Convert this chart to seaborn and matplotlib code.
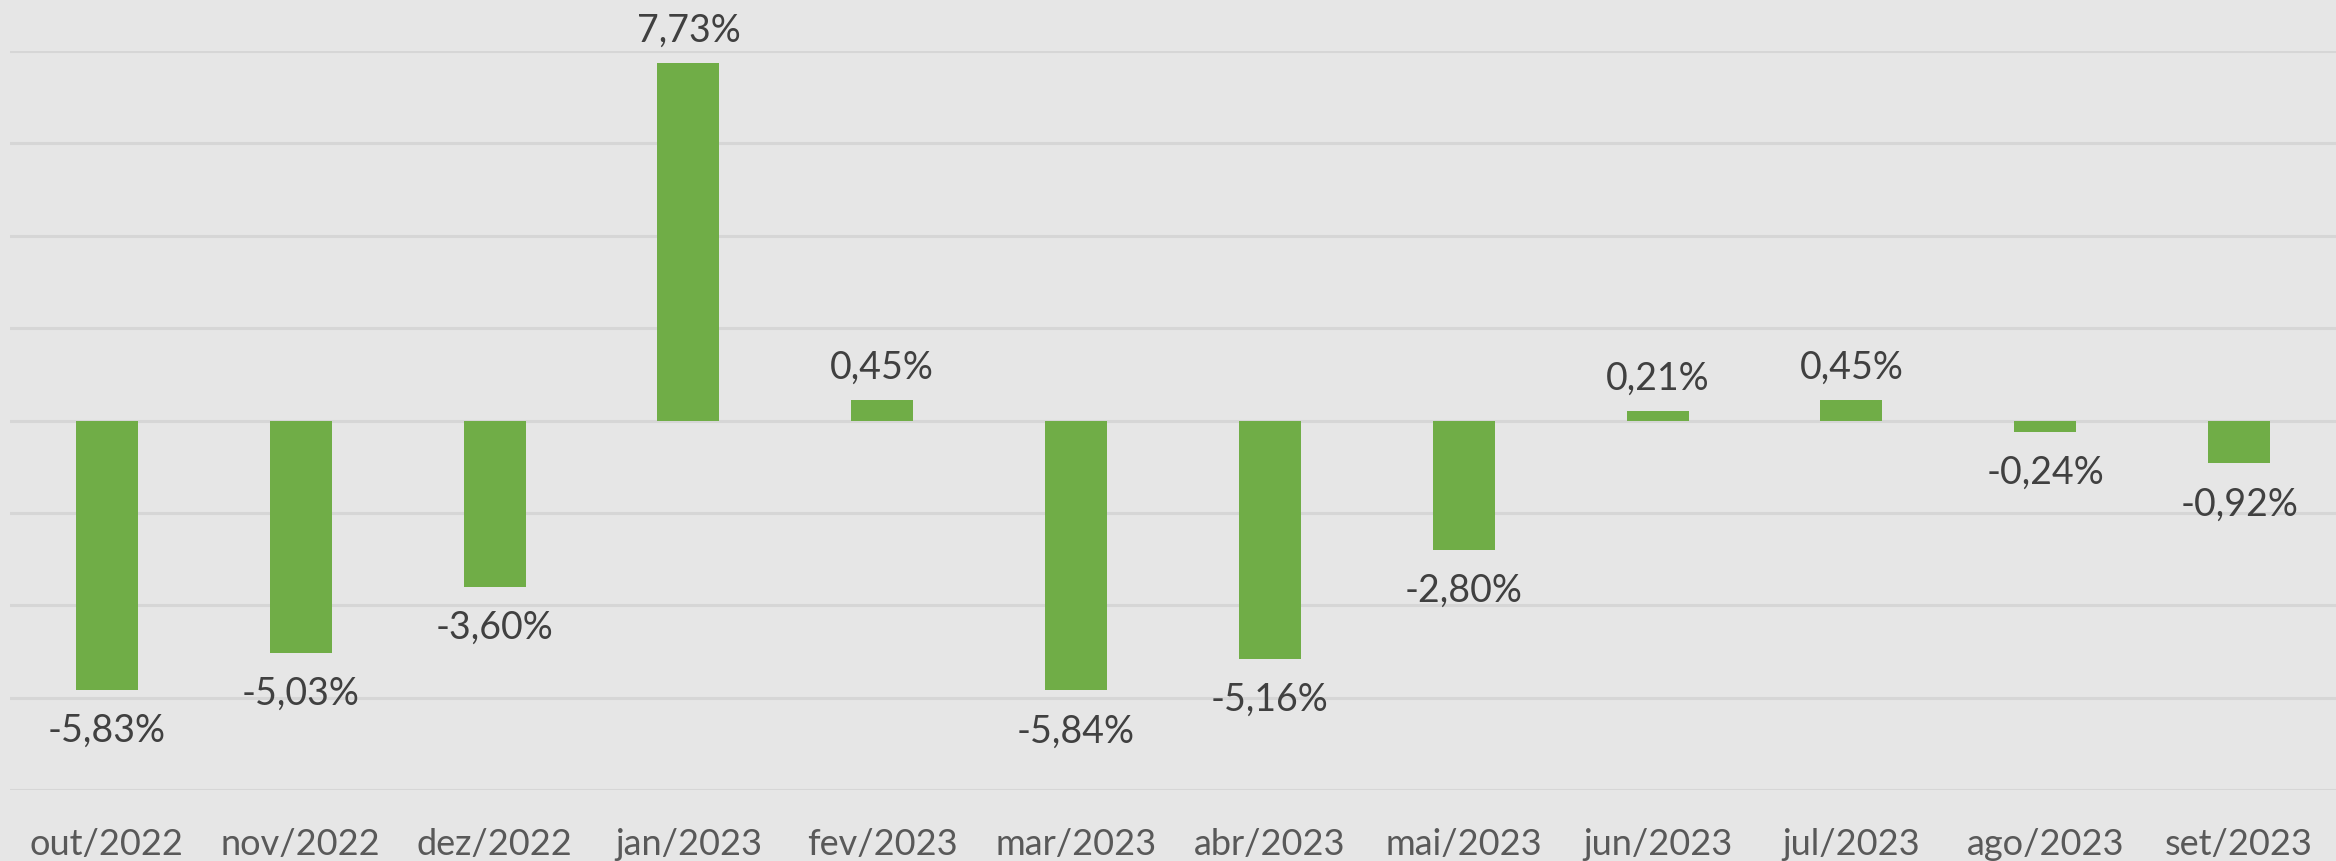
import matplotlib
matplotlib.use("Agg")
import matplotlib.pyplot as plt
import seaborn as sns
import pandas as pd

months = ["out/2022", "nov/2022", "dez/2022", "jan/2023", "fev/2023", "mar/2023",
          "abr/2023", "mai/2023", "jun/2023", "jul/2023", "ago/2023", "set/2023"]
values = [-5.83, -5.03, -3.60, 7.73, 0.45, -5.84, -5.16, -2.80, 0.21, 0.45, -0.24, -0.92]

df = pd.DataFrame({"mes": months, "var": values})

sns.set_style("white")
plt.rcParams["font.family"] = ["Lato", "DejaVu Sans"]

bg = "#E6E6E6"
fig = plt.figure(figsize=(23.36, 8.62), dpi=100, facecolor=bg)
ax = fig.add_axes([10 / 2336, 1 - 791 / 862, 1 - 10 / 2336, (791 - 52) / 862])
ax.set_facecolor(bg)

sns.barplot(data=df, x="mes", y="var", color="#70AD47", saturation=1,
            width=0.32, ax=ax, zorder=3, linewidth=0)

ax.set_ylim(-8, 8)
ax.set_xlim(-0.5, len(months) - 0.5)
ax.set_yticks(range(-8, 9, 2))
ax.yaxis.grid(True, color="#D6D6D6", linewidth=2.2, zorder=0)
ax.set_axisbelow(True)
ax.set_yticklabels([])
ax.tick_params(axis="y", length=0)
ax.tick_params(axis="x", length=0, pad=27, labelsize=26, labelcolor="#595959")
for s in ax.spines.values():
    s.set_visible(False)
ax.set_xlabel("")
ax.set_ylabel("")

for i, v in enumerate(values):
    txt = f"{v:.2f}".replace(".", ",") + "%"
    off = 24 if v >= 0 else -29
    ax.annotate(txt, (i, v), xytext=(0, off), textcoords="offset points",
                ha="center", va="center", fontsize=27, color="#404040")

fig.savefig("out.png", dpi=100, facecolor=bg)
